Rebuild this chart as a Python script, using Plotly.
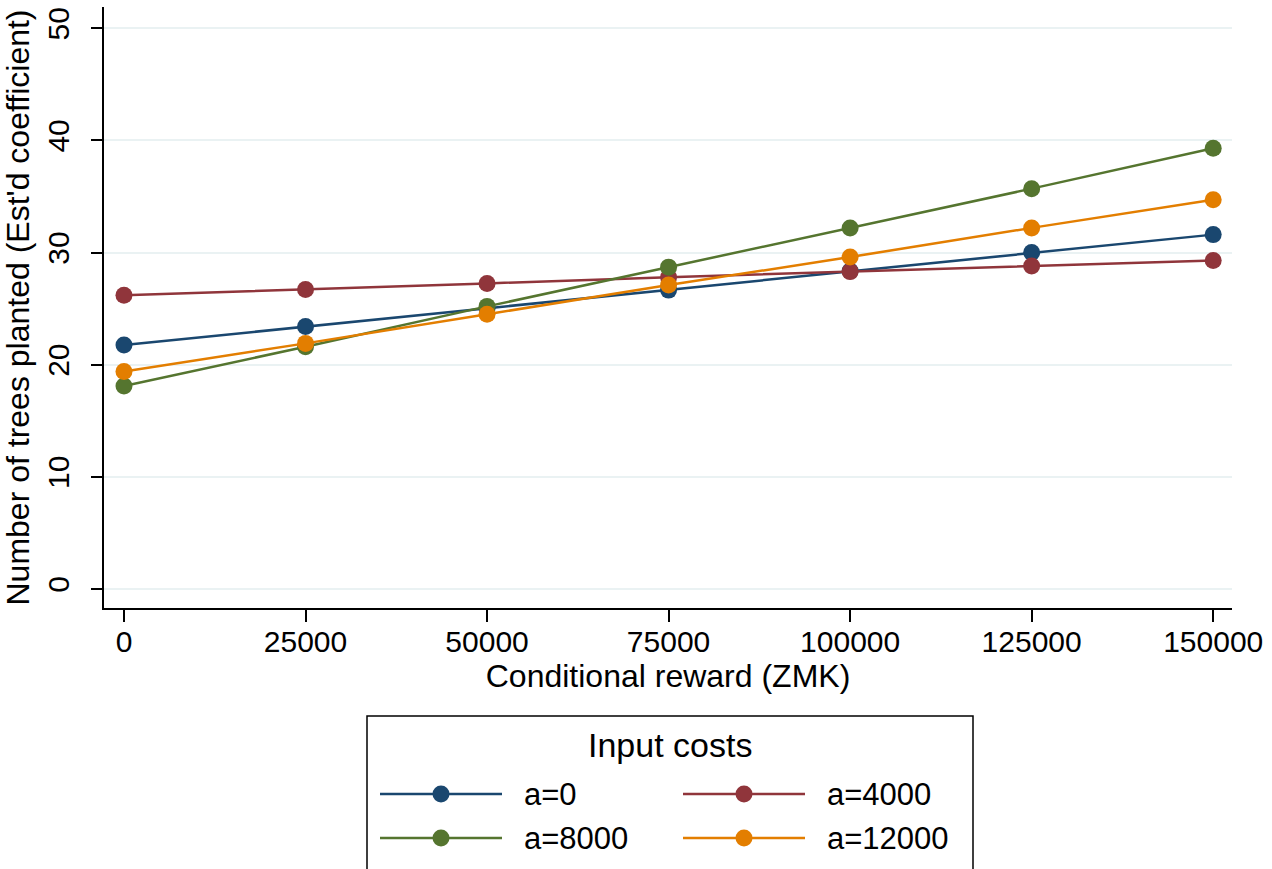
import plotly.graph_objects as go

reward = [0, 25000, 50000, 75000, 100000, 125000, 150000]
series_names = ["a=0", "a=4000", "a=8000", "a=12000"]
a0 = [21.75, 23.4, 25.0, 26.65, 28.35, 30.0, 31.6]
a4000 = [26.2, 26.7, 27.25, 27.8, 28.3, 28.8, 29.3]
a8000 = [18.1, 21.6, 25.2, 28.7, 32.2, 35.7, 39.3]
a12000 = [19.4, 21.9, 24.5, 27.1, 29.6, 32.2, 34.7]
colors = ["#1a476f", "#90353b", "#55752f", "#e37e00"]
x_ticks = [0, 25000, 50000, 75000, 100000, 125000, 150000]
y_ticks = [0, 10, 20, 30, 40, 50]
legend_title = "Input costs"

FONT = "Liberation Sans, Arial, sans-serif"
W, H = 1272, 869
L, R, T, B = 104, 40, 7, 261
PW, PH = W - L - R, H - T - B


def px(xpix):
    return (xpix - L) / PW


def py(ypix):
    return (H - B - ypix) / PH


fig = go.Figure()
for name, vals, col in zip(series_names, [a0, a4000, a8000, a12000], colors):
    fig.add_trace(go.Scatter(
        x=reward, y=vals, name=name, mode="lines+markers",
        line=dict(color=col, width=2.5),
        marker=dict(color=col, size=17, symbol="circle"),
        showlegend=False,
    ))

# manual legend (two columns, long line keys as in the reference)
shapes = []
annotations = []
shapes.append(dict(type="rect", xref="paper", yref="paper",
                   x0=px(367), x1=px(973), y0=py(880), y1=py(716),
                   line=dict(color="black", width=1.5), fillcolor="white",
                   layer="below"))
annotations.append(dict(text=legend_title, xref="paper", yref="paper",
                        x=px(670), y=py(745), xanchor="center", yanchor="middle",
                        showarrow=False,
                        font=dict(family=FONT, size=34, color="black")))
col_x = [380, 683]
row_y = [794, 838]
for i, (name, col) in enumerate(zip(series_names, colors)):
    cx = col_x[i % 2]
    ry = row_y[i // 2]
    shapes.append(dict(type="line", xref="paper", yref="paper",
                       x0=px(cx), x1=px(cx + 122), y0=py(ry), y1=py(ry),
                       line=dict(color=col, width=2.5)))
    r = 8.5
    mx = cx + 61
    shapes.append(dict(type="circle", xref="paper", yref="paper",
                       x0=px(mx - r), x1=px(mx + r), y0=py(ry + r), y1=py(ry - r),
                       line=dict(color=col, width=0), fillcolor=col))
    annotations.append(dict(text=name, xref="paper", yref="paper",
                            x=px(cx + 142), y=py(ry), xanchor="left", yanchor="middle",
                            showarrow=False,
                            font=dict(family=FONT, size=31, color="black")))

fig.update_layout(
    width=W, height=H,
    margin=dict(l=L, r=R, t=T, b=B),
    paper_bgcolor="white", plot_bgcolor="white",
    font=dict(family=FONT, size=30, color="black"),
    showlegend=False,
    shapes=shapes,
    annotations=annotations,
)

fig.update_xaxes(
    range=[-2752, 152590],
    tickvals=x_ticks, ticktext=[str(v) for v in x_ticks],
    ticks="outside", ticklen=12, tickwidth=1.5, tickcolor="black",
    ticklabelstandoff=-6,
    showline=True, linecolor="black", linewidth=2,
    showgrid=False, zeroline=False,
    tickfont=dict(family=FONT, size=30, color="black"),
    title=dict(text="Conditional reward (ZMK)", standoff=2,
               font=dict(family=FONT, size=32, color="black")),
)
fig.update_yaxes(
    range=[-1.7, 51.9],
    tickvals=y_ticks, ticktext=[str(v) for v in y_ticks],
    tickangle=-90,
    ticks="outside", ticklen=11, tickwidth=1.5, tickcolor="black",
    ticklabelstandoff=10,
    showline=True, linecolor="black", linewidth=2,
    showgrid=True, gridcolor="#eaf2f3", gridwidth=2,
    zeroline=False,
    tickfont=dict(family=FONT, size=30, color="black"),
    title=dict(text="Number of trees planted (Est'd coefficient)", standoff=4,
               font=dict(family=FONT, size=32, color="black")),
)

fig.write_html("out.html")
